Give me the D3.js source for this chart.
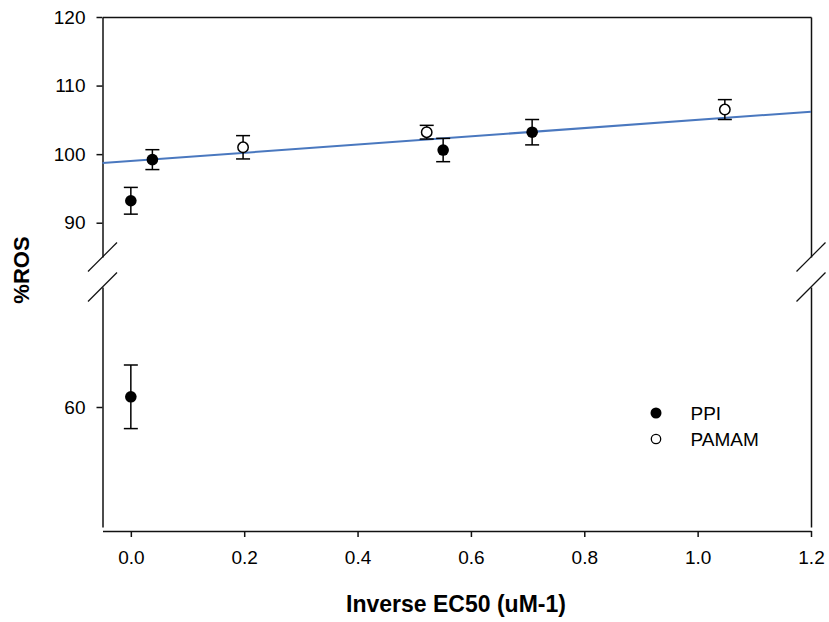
<!DOCTYPE html>
<html>
<head>
<meta charset="utf-8">
<script src="https://cdn.jsdelivr.net/npm/d3@7"></script>
<style>
  body { margin: 0; background: #fff; }
  svg { font-family: "Liberation Sans", Arial, sans-serif; }
</style>
</head>
<body>
<svg id="chart" width="829" height="622"></svg>
<script>
// datos
var ppiX = [0.0, 0.0, 0.038, 0.551, 0.708];
var ppiY = [61.7, 93.2, 99.2, 100.6, 103.2];
var ppiErr = [5.3, 1.95, 1.45, 1.7, 1.85];

var pamamX = [0.198, 0.522, 1.048];
var pamamY = [101.0, 103.2, 106.5];
var pamamErr = [1.7, 1.0, 1.45];

// recta de ajuste (extremos)
var fitX = [-0.05, 1.2];
var fitY = [98.7, 106.2];

var xTicks = [0.0, 0.2, 0.4, 0.6, 0.8, 1.0, 1.2];
var yTicksUpper = [90, 100, 110, 120];
var yTicksLower = [60];
var seriesNames = ["PPI", "PAMAM"];

var svg = d3.select("#chart");

// escalas: eje y partido en dos tramos
var x = d3.scaleLinear().domain([-0.05, 1.2]).range([102.5, 811]);
var yUp = d3.scaleLinear().domain([85, 120]).range([257, 17]);
var yLow = d3.scaleLinear().domain([40, 80]).range([527, 287]);
function yPos(v) { return v >= 85 ? yUp(v) : yLow(v); }

var axisColor = "#111";

// eje inferior
var gx = svg.append("g")
    .attr("transform", "translate(0,531)")
    .call(d3.axisBottom(x).tickValues(xTicks).tickSize(6).tickSizeOuter(0).tickFormat(d3.format(".1f")));
gx.selectAll("text").attr("y", 20).attr("fill", "#000");

// línea superior
svg.append("g")
    .attr("transform", "translate(0,17)")
    .call(d3.axisTop(x).tickValues([]).tickSizeOuter(0));

// eje izquierdo, tramo superior y tramo inferior
var gyU = svg.append("g")
    .attr("transform", "translate(102.5,0)")
    .call(d3.axisLeft(yUp).tickValues(yTicksUpper).tickSize(6).tickSizeOuter(0));
var gyL = svg.append("g")
    .attr("transform", "translate(102.5,0)")
    .call(d3.axisLeft(yLow).tickValues(yTicksLower).tickSize(6).tickSizeOuter(0));
gyU.selectAll("text").attr("x", -17).attr("fill", "#000");
gyL.selectAll("text").attr("x", -17).attr("fill", "#000");

// eje derecho
svg.append("g").attr("transform", "translate(811,0)")
    .call(d3.axisRight(yUp).tickValues([]).tickSizeOuter(0));
svg.append("g").attr("transform", "translate(811,0)")
    .call(d3.axisRight(yLow).tickValues([]).tickSizeOuter(0));

svg.selectAll(".domain, .tick line").attr("stroke", axisColor).attr("stroke-width", 1.5);
svg.selectAll(".tick text").attr("font-family", null).attr("font-size", 19);

// marcas de corte
[102.5, 811].forEach(function(ax) {
  [yUp.range()[0], yLow.range()[1]].forEach(function(yy) {
    svg.append("line")
      .attr("x1", ax - 14.5).attr("y1", yy + 14.5)
      .attr("x2", ax + 14.5).attr("y2", yy - 14.5)
      .attr("stroke", axisColor).attr("stroke-width", 1.2);
  });
});

// recta de ajuste
svg.append("line")
    .attr("x1", x(fitX[0])).attr("y1", yUp(fitY[0]))
    .attr("x2", x(fitX[1])).attr("y2", yUp(fitY[1]))
    .attr("stroke", "#4a78bf").attr("stroke-width", 2);

// barras de error y puntos
function drawSeries(xs, ys, es, filled) {
  var data = xs.map(function(d, i) { return {x: d, y: ys[i], e: es[i]}; });
  var g = svg.append("g");
  var eb = g.selectAll(".eb").data(data).enter().append("g")
      .attr("stroke", "#000").attr("stroke-width", 1.5);
  eb.append("line")
      .attr("x1", function(d) { return x(d.x); }).attr("x2", function(d) { return x(d.x); })
      .attr("y1", function(d) { return yPos(d.y + d.e); }).attr("y2", function(d) { return yPos(d.y - d.e); });
  eb.append("line")
      .attr("x1", function(d) { return x(d.x) - 7; }).attr("x2", function(d) { return x(d.x) + 7; })
      .attr("y1", function(d) { return yPos(d.y + d.e); }).attr("y2", function(d) { return yPos(d.y + d.e); });
  eb.append("line")
      .attr("x1", function(d) { return x(d.x) - 7; }).attr("x2", function(d) { return x(d.x) + 7; })
      .attr("y1", function(d) { return yPos(d.y - d.e); }).attr("y2", function(d) { return yPos(d.y - d.e); });
  g.selectAll("circle").data(data).enter().append("circle")
      .attr("cx", function(d) { return x(d.x); })
      .attr("cy", function(d) { return yPos(d.y); })
      .attr("r", filled ? 5.8 : 5.2)
      .attr("fill", filled ? "#000" : "#fff")
      .attr("stroke", "#000").attr("stroke-width", filled ? 0 : 1.5);
}
drawSeries(ppiX, ppiY, ppiErr, true);
drawSeries(pamamX, pamamY, pamamErr, false);

// leyenda
var legend = svg.append("g").selectAll("g").data(seriesNames).enter().append("g")
    .attr("transform", function(d, i) { return "translate(656," + (413 + i * 26) + ")"; });
legend.append("circle")
    .attr("r", function(d, i) { return i == 0 ? 5.5 : 4.7; })
    .attr("fill", function(d, i) { return i == 0 ? "#000" : "#fff"; })
    .attr("stroke", "#000").attr("stroke-width", function(d, i) { return i == 0 ? 0 : 1.3; });
legend.append("text")
    .attr("x", 34.5).attr("dy", "0.36em")
    .attr("font-size", 19)
    .text(function(d) { return d; });

// títulos de ejes
svg.append("text")
    .attr("x", 456).attr("y", 612)
    .attr("text-anchor", "middle")
    .attr("font-size", 23).attr("font-weight", "bold")
    .text("Inverse EC50 (uM-1)");
svg.append("text")
    .attr("transform", "translate(29,270) rotate(-90)")
    .attr("text-anchor", "middle")
    .attr("font-size", 22).attr("font-weight", "bold")
    .text("%ROS");
</script>
</body>
</html>
